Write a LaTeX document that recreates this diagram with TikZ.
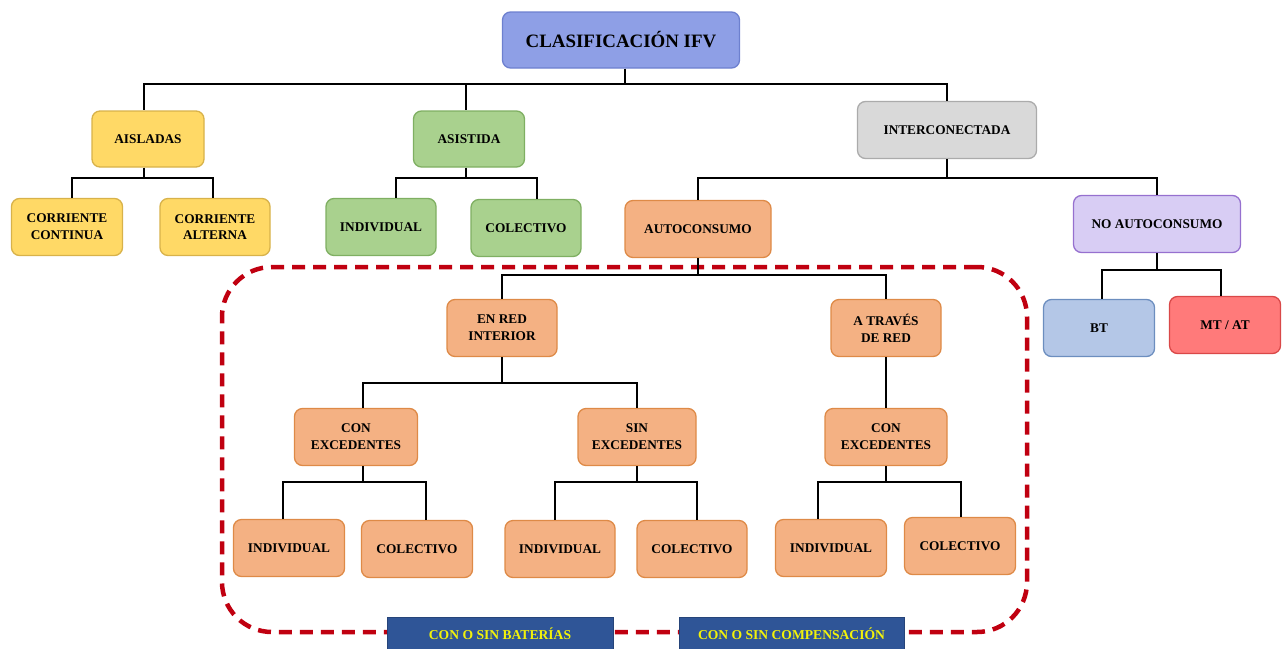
\documentclass[tikz,border=0pt]{standalone}
\usepackage{fontspec}
\setmainfont{Liberation Serif}
\definecolor{rootfill}{HTML}{8E9FE6}
\definecolor{rootline}{HTML}{6D80CF}
\definecolor{yelfill}{HTML}{FFD966}
\definecolor{yelline}{HTML}{D8B24A}
\definecolor{grnfill}{HTML}{A9D18E}
\definecolor{grnline}{HTML}{7FAF62}
\definecolor{gryfill}{HTML}{D9D9D9}
\definecolor{gryline}{HTML}{ABABAB}
\definecolor{orgfill}{HTML}{F4B183}
\definecolor{orgline}{HTML}{DE8A47}
\definecolor{lavfill}{HTML}{D8CDF4}
\definecolor{lavline}{HTML}{9670CF}
\definecolor{btfill}{HTML}{B4C7E7}
\definecolor{btline}{HTML}{6C8EBF}
\definecolor{mtfill}{HTML}{FF7A7A}
\definecolor{mtline}{HTML}{D94848}
\definecolor{framered}{HTML}{C00010}
\definecolor{tagblue}{HTML}{2F5597}
\definecolor{tagtext}{HTML}{F2F20A}
\begin{document}
\begin{tikzpicture}[x=1pt,y=-1pt,
  box/.style={rounded corners=8pt, line width=1.3pt, align=center,
    font=\fontsize{13.3}{16.8}\selectfont\bfseries, inner sep=2pt,
    minimum height=57pt},
  yel/.style={box, fill=yelfill, draw=yelline},
  grn/.style={box, fill=grnfill, draw=grnline},
  org/.style={box, fill=orgfill, draw=orgline},
  link/.style={line width=2.4pt, black},
  dashframe/.style={draw=framered, line width=4.5pt, dash pattern=on 13pt off 8pt,
    rounded corners=50pt, inner sep=0pt},
  tag/.style={fill=tagblue, draw=tagblue!80!black, line width=0.8pt, text=tagtext,
    font=\fontsize{13.6}{15}\selectfont\bfseries, minimum height=34pt, inner sep=0pt}]
\useasboundingbox (0,0) rectangle (1284,648);

% grouping frame around the self-consumption branch
\node[dashframe, minimum width=805pt, minimum height=365pt] (grp) at (624.5,449.5) {};

% bar levels
\coordinate (L0) at (0,84);
\coordinate (L1) at (0,178);
\coordinate (L2) at (0,270);
\coordinate (L3) at (0,275);
\coordinate (L4) at (0,383);
\coordinate (L5) at (0,482);

% nodes
\node[box, fill=rootfill, draw=rootline, minimum width=237pt, minimum height=56pt,
      font=\fontsize{18.9}{20}\selectfont\bfseries] (root) at (621,40) {CLASIFICACIÓN IFV};

\node[yel, minimum width=112pt, minimum height=56pt] (ais) at (148,139) {AISLADAS};
\node[grn, minimum width=111pt, minimum height=56pt] (asi) at (469,139) {ASISTIDA};
\node[box, fill=gryfill, draw=gryline, minimum width=179pt] (int) at (947,130) {INTERCONECTADA};

\node[yel, minimum width=111pt] (cc) at (67,227) {CORRIENTE\\CONTINUA};
\node[yel, minimum width=110pt] (ca) at (215,227) {CORRIENTE\\ALTERNA};
\node[grn, minimum width=110pt] (ind0) at (381,227) {INDIVIDUAL};
\node[grn, minimum width=110pt] (col0) at (526,228) {COLECTIVO};

\node[org, minimum width=146pt] (auto) at (698,229) {AUTOCONSUMO};
\node[box, fill=lavfill, draw=lavline, minimum width=167pt] (noauto) at (1157,224) {NO AUTOCONSUMO};
\node[box, fill=btfill, draw=btline, minimum width=111pt] (bt) at (1099,328) {BT};
\node[box, fill=mtfill, draw=mtline, minimum width=111pt] (mt) at (1225,325) {MT / AT};

\node[org, minimum width=110pt] (enred) at (502,328) {EN RED\\INTERIOR};
\node[org, minimum width=110pt] (atra) at (886,328) {A TRAVÉS\\DE RED};

\node[org, minimum width=123pt] (cexl) at (356,437) {CON\\EXCEDENTES};
\node[org, minimum width=118pt] (sexc) at (637,437) {SIN\\EXCEDENTES};
\node[org, minimum width=122pt] (cexr) at (886,437) {CON\\EXCEDENTES};

\node[org, minimum width=111pt] (ind1) at (289,548) {INDIVIDUAL};
\node[org, minimum width=111pt] (col1) at (417,549) {COLECTIVO};
\node[org, minimum width=110pt] (ind2) at (560,549) {INDIVIDUAL};
\node[org, minimum width=110pt] (col2) at (692,549) {COLECTIVO};
\node[org, minimum width=111pt] (ind3) at (831,548) {INDIVIDUAL};
\node[org, minimum width=111pt] (col3) at (960,546) {COLECTIVO};

\node[tag, minimum width=226pt] (bat) at (500,634) {CON O SIN BATERÍAS};
\node[tag, minimum width=225pt] (comp) at (791.5,634) {CON O SIN COMPENSACIÓN};

% connectors
\draw[link] ([xshift=4pt]root.south) -- ([xshift=4pt]root.south |- L0) -| ([xshift=-4pt]ais.north);
\draw[link] ([xshift=4pt]root.south |- L0) -| ([xshift=-3pt]asi.north);
\draw[link] ([xshift=4pt]root.south |- L0) -| (int.north);

\draw[link] ([xshift=-4pt]ais.south) -- ([xshift=-4pt]ais.south |- L1) -| ([xshift=5pt]cc.north);
\draw[link] ([xshift=-4pt]ais.south |- L1) -| ([xshift=-2pt]ca.north);

\draw[link] ([xshift=-3pt]asi.south) -- ([xshift=-3pt]asi.south |- L1) -| ([xshift=15pt]ind0.north);
\draw[link] ([xshift=-3pt]asi.south |- L1) -| ([xshift=11pt]col0.north);

\draw[link] (int.south) -- (int.south |- L1) -| (auto.north);
\draw[link] (int.south |- L1) -| (noauto.north);

\draw[link] (noauto.south) -- (noauto.south |- L2) -| ([xshift=3pt]bt.north);
\draw[link] (noauto.south |- L2) -| ([xshift=-4pt]mt.north);

\draw[link] (auto.south) -- (auto.south |- L3) -| (enred.north);
\draw[link] (auto.south |- L3) -| (atra.north);

\draw[link] (enred.south) -- (enred.south |- L4) -| ([xshift=7pt]cexl.north);
\draw[link] (enred.south |- L4) -| (sexc.north);
\draw[link] (atra.south) -- (cexr.north);

\draw[link] ([xshift=7pt]cexl.south) -- ([xshift=7pt]cexl.south |- L5) -| ([xshift=-6pt]ind1.north);
\draw[link] ([xshift=7pt]cexl.south |- L5) -| ([xshift=9pt]col1.north);

\draw[link] (sexc.south) -- (sexc.south |- L5) -| ([xshift=-5pt]ind2.north);
\draw[link] (sexc.south |- L5) -| ([xshift=5pt]col2.north);

\draw[link] (cexr.south) -- (cexr.south |- L5) -| ([xshift=-13pt]ind3.north);
\draw[link] (cexr.south |- L5) -| ([xshift=1pt]col3.north);
\end{tikzpicture}
\end{document}
